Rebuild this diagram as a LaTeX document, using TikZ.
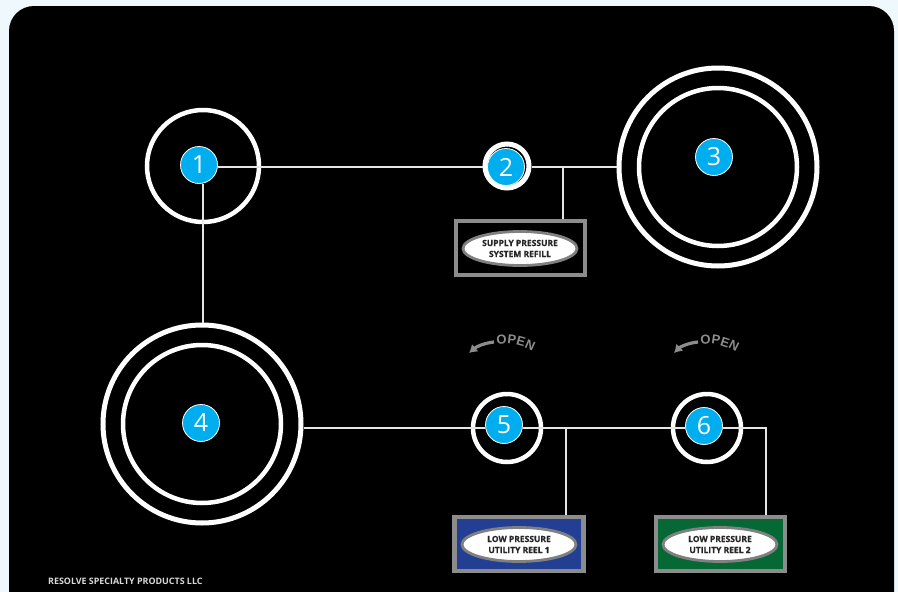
\documentclass[tikz,border=0pt]{standalone}
\usepackage{fontspec}
\setmainfont{Open Sans}
\newfontfamily\openfont{Liberation Sans}
\usetikzlibrary{decorations.text,arrows.meta,shapes.geometric}
\definecolor{pagebg}{HTML}{EFF9FD}
\definecolor{badgeblue}{HTML}{00AEEF}
\definecolor{framegray}{HTML}{8C8C8C}
\definecolor{reelblue}{HTML}{233F94}
\definecolor{reelgreen}{HTML}{056835}
\tikzset{
  ring/.style={circle,draw=white,line width=#1,inner sep=0pt},
  ring/.default=4.5pt,
  badge/.style={circle,fill=badgeblue,draw=white,line width=0.8pt,minimum size=37pt,inner sep=0pt,text=white,font=\fontsize{25}{25}\selectfont},
  pipe/.style={draw=white!90!black,line width=2pt},
  frame/.style={draw=framegray,line width=4.5pt,minimum width=129pt,minimum height=54pt,inner sep=0pt},
  oval/.style={ellipse,draw=black!50,line width=2.8pt,fill=white,minimum width=114pt,minimum height=34pt,inner sep=0pt,align=center,text=black!85,font=\fontsize{8.5}{11}\selectfont\bfseries\addfontfeature{FakeBold=0.5}},
  openarrow/.style={draw=framegray,line width=3.2pt,-{Latex[length=8pt,width=10pt]}},
}
\begin{document}
\begin{tikzpicture}[x=1pt,y=-1pt]
\useasboundingbox (0,0) rectangle (898,592);
\fill[pagebg] (0,0) rectangle (898,592);
\fill[black,rounded corners=25pt] (9,6) rectangle (894,620);
% rings
\node[ring,minimum size=112pt] (r1) at (203,166) {};
\node[ring=5pt,minimum size=44pt] (r2) at (507,166) {};
\node[ring=5pt,minimum size=198pt] (r3) at (718,167) {};
\node[ring,minimum size=158pt] (r3i) at (718,167) {};
\node[ring=5pt,minimum size=198pt] (r4) at (202,424) {};
\node[ring,minimum size=158pt] (r4i) at (202,424) {};
\node[ring,minimum size=68pt] (r5) at (507,428) {};
\node[ring,minimum size=68pt] (r6) at (707,428) {};
% badges
\node[badge] (b1) at (199,165) {1};
\node[badge] (b2) at (506,167) {2};
\node[badge] (b3) at (714,157) {3};
\node[badge] (b4) at (201,423) {4};
\node[badge] (b5) at (504,425) {5};
\node[badge] (b6) at (704,426) {6};
% labelled boxes
\node[frame,fill=black] (f2) at (520.5,248) {};
\node[oval] (o2) at (520,248.5) {SUPPLY PRESSURE\\SYSTEM REFILL};
\node[frame,fill=reelblue] (f5) at (519,544) {};
\node[oval] (o5) at (519,544.5) {LOW PRESSURE\\UTILITY REEL 1};
\node[frame,fill=reelgreen] (f6) at (720.5,544) {};
\node[oval] (o6) at (720,544.5) {LOW PRESSURE\\UTILITY REEL 2};
% connector helpers
\coordinate (upper) at (0,167);
\coordinate (lower) at (0,428);
\coordinate (vert) at (203,0);
\coordinate (jt2) at (563,167);
\coordinate (jt5) at (566,428);
\coordinate (jt6) at (766,428);
% connectors
\draw[pipe] (b1.east |- upper) -- (r2.west |- upper);
\draw[pipe] (r2.east |- upper) -- (r3.west |- upper);
\draw[pipe] (jt2) -- (jt2 |- f2.north);
\draw[pipe] (vert |- b1.south) -- (vert |- r4.north);
\draw[pipe] (r4.east |- lower) -- (b5.west |- lower);
\draw[pipe] (b5.east |- lower) -- (b6.west |- lower);
\draw[pipe] (b6.east |- lower) -- (jt6) -- (jt6 |- f6.north);
\draw[pipe] (jt5) -- (jt5 |- f5.north);
% OPEN markers
\coordinate (a5s) at (494,342);
\coordinate (a5e) at (469,353);
\coordinate (a6s) at (698,342);
\coordinate (a6e) at (674,353);
\draw[openarrow] (a5s) .. controls (484,343) and (476,347) .. (a5e);
\draw[openarrow] (a6s) .. controls (688,343) and (680,347) .. (a6e);
\path[decorate,decoration={text along path,text={|\openfont\bfseries\fontsize{13}{13}\selectfont\color{framegray}|OPEN},text align=left}] (497,345) .. controls (512,342) and (528,347) .. (542,357);
\path[decorate,decoration={text along path,text={|\openfont\bfseries\fontsize{13}{13}\selectfont\color{framegray}|OPEN},text align=left}] (701,345) .. controls (715,342) and (730,347) .. (743,357);
% footer
\node[anchor=west,text=white!85!black,font=\fontsize{8.9}{10}\selectfont\bfseries,inner sep=0pt] (foot) at (48,581) {RESOLVE SPECIALTY PRODUCTS LLC};
\end{tikzpicture}
\end{document}
